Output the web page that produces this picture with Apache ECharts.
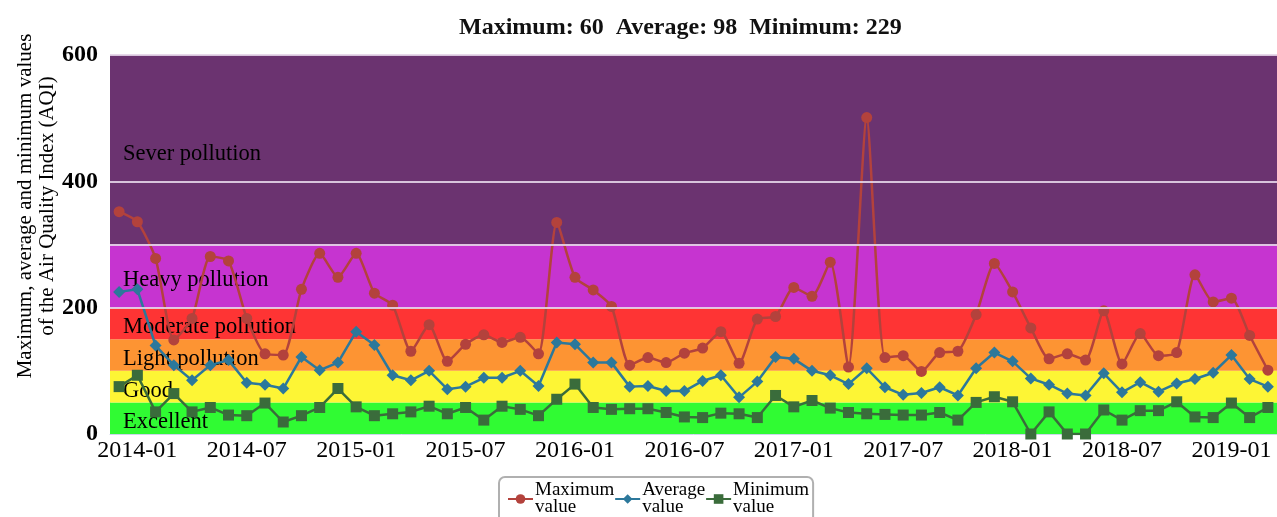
<!DOCTYPE html>
<html>
<head>
<meta charset="utf-8">
<script src="https://cdn.jsdelivr.net/npm/echarts@6/dist/echarts.min.js"></script>
<style>
    html, body { margin: 0; padding: 0; background: #fff; }
    #main { width: 1277px; height: 517px; }
</style>
</head>
<body>
<div id="main"></div>
<script>
// monthly values, 2013-12 .. 2019-03
const maxVals = [352, 336, 278, 149, 183, 281, 274, 183, 127, 125, 229, 286, 248, 286, 223, 204,
    131, 173, 115, 142, 157, 145, 153, 127, 335, 248, 228, 202, 109, 121, 113, 128,
    136, 162, 112, 182, 186, 232, 218, 272, 106, 501, 121, 124, 99, 129, 131, 189,
    270, 225, 168, 119, 127, 117, 195, 111, 159, 124, 129, 252, 209, 215, 156, 101];
const avgVals = [225, 229, 140, 109, 85, 109, 117, 81, 78, 72, 122, 101, 113, 162, 141, 93,
    85, 100, 71, 75, 89, 89, 100, 76, 145, 142, 113, 113, 75, 76, 68, 68,
    84, 93, 58, 83, 122, 119, 100, 93, 79, 104, 74, 62, 65, 74, 61, 104,
    129, 115, 88, 78, 64, 61, 96, 66, 82, 67, 80, 87, 97, 125, 87, 75];
const minVals = [75, 93, 35, 64, 35, 42, 30, 29, 49, 19, 29, 42, 72, 43, 29, 32,
    35, 44, 32, 42, 22, 44, 39, 29, 55, 79, 42, 39, 40, 40, 34, 27,
    26, 33, 32, 26, 61, 43, 53, 41, 34, 32, 31, 30, 30, 34, 22, 50,
    59, 51, 0, 35, 0, 0, 38, 22, 37, 37, 51, 27, 26, 49, 26, 42];

// AQI bands
const bandNames = ['Excellent', 'Good', 'Light pollution', 'Moderate pollution', 'Heavy pollution', 'Sever pollution'];
const bandFrom = [0, 50, 100, 150, 200, 300];
const bandTo = [50, 100, 150, 200, 300, 600];
const bandColors = ['#30fb33', '#fdf535', '#fd9433', '#fe3434', '#c634d0', '#6b3370'];
const bandLines = [200, 300, 400, 600];

const seriesNames = ['Maximum value', 'Average value', 'Minimum value'];
const titleText = 'Maximum: 60  Average: 98  Minimum: 229';

let months = [];
for (let y = 2013; y <= 2019; y++) {
    for (let m = 1; m <= 12; m++) {
        if (y === 2013 && m < 12) continue;
        if (y === 2019 && m > 3) continue;
        months.push(y + '-' + (m < 10 ? '0' + m : m));
    }
}

const serif = "'Liberation Serif', 'Times New Roman', serif";

// coloured bands (drawn under the lines) and their names (drawn over them)
let bandAreas = [];
let bandTexts = [];
for (let i = 0; i < bandNames.length; i++) {
    bandAreas.push([
        {yAxis: bandFrom[i], itemStyle: {color: bandColors[i]}},
        {yAxis: bandTo[i]}
    ]);
    bandTexts.push([
        {name: bandNames[i], yAxis: bandFrom[i]},
        {yAxis: bandTo[i]}
    ]);
}

function showLabel(idx) {
    return (idx - 1) % 6 === 0;
}

let emptyData = months.map(function () { return null; });

let chart = echarts.init(document.getElementById('main'));

const option = {
    animation: false,
    title: {
        text: titleText,
        left: 454,
        top: 11,
        textStyle: {fontFamily: serif, fontSize: 24, fontWeight: 'bold', color: '#111'}
    },
    grid: {left: 110, top: 55, width: 1173, height: 379},
    legend: {
        left: 499,
        top: 477,
        padding: [4, 4, 8, 8],
        itemGap: 0,
        itemWidth: 25,
        itemHeight: 12,
        borderColor: '#b0b0b0',
        borderWidth: 2,
        borderRadius: 6,
        data: seriesNames,
        formatter: function (name) {
            return name.replace(' ', '\n');
        },
        textStyle: {fontFamily: serif, fontSize: 19, lineHeight: 17, color: '#000', padding: [0, 0, 0, -3]}
    },
    graphic: [{
        type: 'text',
        x: 36,
        y: 206,
        rotation: Math.PI / 2,
        style: {
            text: 'Maximum, average and minimum values\nof the Air Quality Index (AQI)',
            font: '21px ' + serif,
            lineHeight: 22,
            fill: '#000',
            align: 'center',
            verticalAlign: 'middle'
        }
    }],
    xAxis: {
        type: 'category',
        data: months,
        boundaryGap: true,
        axisLine: {lineStyle: {color: '#ccd6eb', width: 1}},
        axisTick: {alignWithLabel: true, interval: showLabel, length: 6, lineStyle: {color: '#ccd6eb'}},
        axisLabel: {
            interval: showLabel,
            margin: 5,
            color: '#000',
            fontFamily: serif,
            fontSize: 24
        }
    },
    yAxis: {
        type: 'value',
        min: 0,
        max: 600,
        interval: 200,
        axisLine: {show: true, lineStyle: {color: '#ccd6eb'}},
        splitLine: {show: false},
        axisLabel: {margin: 12, color: '#000', fontFamily: serif, fontSize: 24, fontWeight: 'bold'}
    },
    series: [
        {
            name: 'bands',
            type: 'line',
            z: 1,
            silent: true,
            showSymbol: false,
            data: emptyData,
            markArea: {
                silent: true,
                label: {show: false},
                data: bandAreas
            },
            markLine: {
                silent: true,
                symbol: 'none',
                label: {show: false},
                lineStyle: {color: 'rgba(228,212,232,0.9)', width: 2, type: 'solid'},
                data: bandLines.map(function (v) { return {yAxis: v}; })
            }
        },
        {
            name: seriesNames[0],
            type: 'line',
            z: 3,
            smooth: 0.2,
            symbol: 'circle',
            symbolSize: 11,
            data: maxVals,
            itemStyle: {color: '#b3423c'},
            lineStyle: {width: 2.5, color: '#b3423c'}
        },
        {
            name: seriesNames[1],
            type: 'line',
            z: 4,
            symbol: 'diamond',
            symbolSize: 12,
            data: avgVals,
            itemStyle: {color: '#2c789b'},
            lineStyle: {width: 2.5, color: '#2c789b'}
        },
        {
            name: seriesNames[2],
            type: 'line',
            z: 5,
            symbol: 'rect',
            symbolSize: 11,
            data: minVals,
            itemStyle: {color: '#3a6c3b'},
            lineStyle: {width: 2.5, color: '#3a6c3b'}
        },
        {
            name: 'band names',
            type: 'line',
            z: 10,
            silent: true,
            showSymbol: false,
            data: emptyData,
            markArea: {
                silent: true,
                itemStyle: {color: 'rgba(0,0,0,0)'},
                label: {
                    show: true,
                    position: 'insideLeft',
                    offset: [8, 4],
                    color: '#000',
                    fontFamily: serif,
                    fontSize: 22.5
                },
                data: bandTexts
            }
        }
    ]
};

chart.setOption(option);
</script>
</body>
</html>
